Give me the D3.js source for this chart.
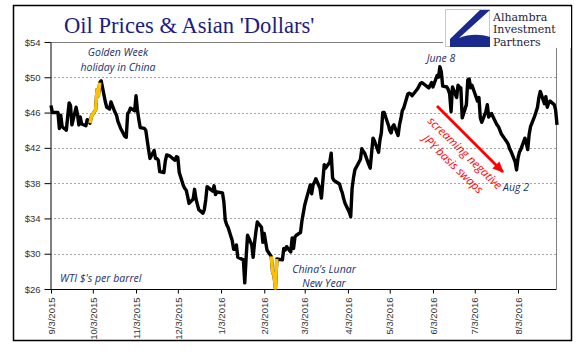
<!DOCTYPE html>
<html>
<head>
<meta charset="utf-8">
<script src="https://cdnjs.cloudflare.com/ajax/libs/d3/7.8.5/d3.min.js"></script>
<style>
body { margin: 0; background: #fff; }
svg { display: block; font-family: "Liberation Sans", Arial, sans-serif; }
.eixo text { font-size: 9.5px; fill: #333; }
.nota { font-family: "Open Sans", sans-serif; font-style: italic; font-size: 10.5px; fill: #1b2f6e; }
</style>
</head>
<body>
<div id="grafico"></div>
<script>

// WTI $ per barrel (one row per month)
var months = ["2015-09", "2015-10", "2015-11", "2015-12", "2016-01", "2016-02",
              "2016-03", "2016-04", "2016-05", "2016-06", "2016-07", "2016-08"];

var trading_days = [
	[3,4,8,9,10,11,14,15,16,17,18,21,22,23,24,25,28,29,30],
	[1,2,5,6,7,8,9,12,13,14,15,16,19,20,21,22,23,26,27,28,29,30],
	[2,3,4,5,6,9,10,11,12,13,16,17,18,19,20,23,24,25,27,30],
	[1,2,3,4,7,8,9,10,11,14,15,16,17,18,21,22,23,24,28,29,30,31],
	[4,5,6,7,8,11,12,13,14,15,19,20,21,22,25,26,27,28,29],
	[1,2,3,4,5,8,9,10,11,12,16,17,18,19,22,23,24,25,26,29],
	[1,2,3,4,7,8,9,10,11,14,15,16,17,18,21,22,23,24,28,29,30,31],
	[1,4,5,6,7,8,11,12,13,14,15,18,19,20,21,22,25,26,27,28,29],
	[2,3,4,5,6,9,10,11,12,13,16,17,18,19,20,23,24,25,26,27,31],
	[1,2,3,6,7,8,9,10,13,14,15,16,17,20,21,22,23,24,27,28,29,30],
	[1,5,6,7,8,11,12,13,14,15,18,19,20,21,22,25,26,27,28,29],
	[1,2,3,4,5,8,9,10,11,12,15,16,17,18,19,22,23,24,25,26,29,30,31]
];

var prices = [
	[46.8,46.0,46.0,44.2,45.7,44.4,44.0,45.6,47.1,46.8,44.6,46.6,45.8,44.6,45.5,44.7,44.5,45.2,45.1],
	[44.8,45.6,46.3,48.6,47.9,49.4,49.6,47.2,46.6,46.5,46.4,47.2,46.0,45.7,45.0,44.6,44.2,43.3,43.2,45.9,46.1,46.5],
	[46.2,47.9,46.3,45.2,44.3,44.2,44.0,42.9,41.8,40.8,41.7,40.8,40.8,40.6,39.3,39.2,40.5,41.2,41.1,40.7],
	[40.6,41.0,40.9,39.2,37.7,37.4,37.2,36.5,35.7,36.2,37.3,36.2,35.6,35.0,34.6,35.0,36.1,37.6,37.1,37.7,36.7,37.0],
	[36.9,35.9,33.8,33.3,33.0,31.5,30.5,30.5,31.0,29.6,29.3,26.7,29.6,32.1,31.0,29.6,31.2,32.5,33.6],
	[33.0,31.3,32.3,31.3,30.4,29.7,27.9,27.5,26.1,29.4,29.3,30.6,30.4,30.8,30.2,31.8,30.6,31.9,32.1,32.4],
	[33.7,34.6,35.5,36.1,37.8,36.8,37.8,38.1,38.5,37.4,36.3,38.2,40.1,39.7,40.4,41.4,38.6,38.3,37.9,37.3,36.9,36.2],
	[35.7,34.7,34.2,37.4,38.6,39.5,40.4,40.7,41.9,41.6,41.4,40.1,39.7,41.4,43.1,42.8,41.5,42.9,43.7,46.0,46.0],
	[44.6,44.0,43.7,44.4,44.6,43.4,44.6,45.3,46.2,46.5,48.1,48.2,48.1,47.9,48.1,48.7,49.0,49.3,49.4,49.3,48.8],
	[49.1,49.4,48.9,50.2,50.0,51.2,50.6,49.0,48.9,48.6,48.1,46.1,48.9,47.7,49.1,48.9,48.8,45.4,46.9,49.7,49.8,48.8],
	[49.1,47.3,47.7,45.4,44.9,46.1,46.9,45.5,45.7,45.9,44.9,44.6,44.4,44.0,43.6,42.9,42.7,42.4,41.9,41.6],
	[40.4,39.5,40.8,41.5,41.8,43.1,42.5,41.8,43.5,44.4,45.6,46.1,46.6,47.7,48.4,47.0,47.8,46.6,47.1,47.3,46.9,46.3,44.6]
];

// holidays drawn in orange
var golden_week = ["2015-10-01", "2015-10-08"];
var lunar_new_year = ["2016-02-08", "2016-02-12"];

var y_ticks = [26, 30, 34, 38, 42, 46, 50, 54];
var x_ticks = ["2015-09-03", "2015-10-03", "2015-11-03", "2015-12-03", "2016-01-03", "2016-02-03",
               "2016-03-03", "2016-04-03", "2016-05-03", "2016-06-03", "2016-07-03", "2016-08-03"];
var x_domain = ["2015-09-03", "2016-08-31"];

function desenha_grafico(){

	var width = 577;
	var height = 361;
	var left = 50, right = 556.5, top = 42, bottom = 289;

	var parse = d3.timeParse("%Y-%m-%d");

	var serie = [];
	months.forEach(function(m, i){
		trading_days[i].forEach(function(d, j){
			serie.push({date: parse(m + "-" + (d < 10 ? "0" + d : d)), price: prices[i][j]});
		});
	});

	var svg = d3.select("#grafico")
	            .append("svg")
	            .attr("width", width)
	            .attr("height", height);

	var x = d3.scaleTime()
	            .domain(x_domain.map(parse))
	            .range([51, 557]);

	var y = d3.scaleLinear()
	            .domain([26, 54])
	            .range([bottom, top]);

	// moldura externa
	svg.append("rect")
	    .attr("x", 13.5).attr("y", 5.5)
	    .attr("width", 558).attr("height", 335)
	    .style("fill", "none")
	    .style("stroke", "#000")
	    .style("stroke-width", 1.5);

	// linhas de grade
	svg.append("g")
	    .selectAll("line")
	    .data(y_ticks.filter(function(t){ return t > 26 && t < 54; }))
	    .enter()
	    .append("line")
	    .attr("x1", left).attr("x2", right)
	    .attr("y1", function(d){ return Math.round(y(d)) + 0.5; })
	    .attr("y2", function(d){ return Math.round(y(d)) + 0.5; })
	    .style("stroke", "#a6a6a6")
	    .style("stroke-width", 1)
	    .style("stroke-dasharray", "2,2");

	// borda da area do grafico
	svg.append("line")
	    .attr("x1", left).attr("x2", right)
	    .attr("y1", top + 0.5).attr("y2", top + 0.5)
	    .style("stroke", "#7f7f7f");
	svg.append("line")
	    .attr("x1", right).attr("x2", right)
	    .attr("y1", top).attr("y2", bottom)
	    .style("stroke", "#7f7f7f");

	// eixo y
	var yAxis = d3.axisLeft(y)
	              .tickValues(y_ticks)
	              .tickSize(6)
	              .tickSizeOuter(0)
	              .tickPadding(4)
	              .tickFormat(function(d){ return "$" + d; });

	svg.append("g")
	    .attr("class", "eixo")
	    .attr("transform", "translate(" + (left + 0.5) + ",0)")
	    .call(yAxis)
	    .call(function(g){ g.selectAll("line, path").style("stroke", "#000"); });

	// eixo x
	var xAxis = d3.axisBottom(x)
	              .tickValues(x_ticks.map(parse))
	              .tickSize(4)
	              .tickSizeOuter(0)
	              .tickFormat(d3.timeFormat("%-m/%-d/%Y"));

	var gx = svg.append("g")
	    .attr("class", "eixo")
	    .attr("transform", "translate(0," + (bottom + 0.5) + ")")
	    .call(xAxis);

	gx.select(".domain").remove();
	gx.selectAll("line").style("stroke", "#000");
	gx.selectAll("text")
	    .attr("transform", "rotate(-90)")
	    .attr("x", -8)
	    .attr("y", 0)
	    .attr("dy", "0.34em")
	    .style("text-anchor", "end");

	svg.append("line")
	    .attr("x1", left).attr("x2", right)
	    .attr("y1", bottom + 0.5).attr("y2", bottom + 0.5)
	    .style("stroke", "#000");

	// linha do petroleo
	var line = d3.line()
	             .x(function(d){ return x(d.date); })
	             .y(function(d){ return y(d.price); });

	svg.append("path")
	    .datum(serie)
	    .attr("d", line)
	    .style("fill", "none")
	    .style("stroke", "#000")
	    .style("stroke-width", 3.4)
	    .style("stroke-linejoin", "round");

	[golden_week, lunar_new_year].forEach(function(r){
		var ini = parse(r[0]), fim = parse(r[1]);
		svg.append("path")
		    .datum(serie.filter(function(d){ return d.date >= ini && d.date <= fim; }))
		    .attr("d", line)
		    .style("fill", "none")
		    .style("stroke", "#ffc000")
		    .style("stroke-width", 3.4)
		    .style("stroke-linejoin", "round");
	});

	// titulo
	svg.append("text")
	    .attr("x", 64).attr("y", 33)
	    .style("font-family", "'Liberation Serif', 'Times New Roman', serif")
	    .style("font-size", "22.6px")
	    .style("fill", "#1c1c84")
	    .text("Oil Prices & Asian 'Dollars'");

	// logo
	var logo = svg.append("g");
	logo.append("rect")
	    .attr("x", 443).attr("y", 7)
	    .attr("width", 128).attr("height", 41)
	    .style("fill", "#fff");
	logo.append("rect")
	    .attr("x", 445.5).attr("y", 9.5)
	    .attr("width", 44).attr("height", 37)
	    .style("fill", "#fff")
	    .style("stroke", "#c8c8c8");
	logo.append("path")
	    .attr("d", "M480,10 L490,10 L459,38 C469,34 480,34 490,37 L490,47 L450,47 L450,39 Z")
	    .style("fill", "#1a2a8c");
	var nomes = ["Alhambra", "Investment", "Partners"];
	logo.selectAll(".nome")
	    .data(nomes)
	    .enter()
	    .append("text")
	    .attr("class", "nome")
	    .attr("x", 493)
	    .attr("y", function(d, i){ return 20.5 + i * 12.5; })
	    .style("font-family", "'DejaVu Serif', serif")
	    .style("font-size", "11px")
	    .style("fill", "#1d1d3b")
	    .text(function(d){ return d; });

	// notas
	var notas = [
		{t: "Golden Week", x: 118, y: 56, a: "middle"},
		{t: "holiday in China", x: 118, y: 71, a: "middle"},
		{t: "June 8", x: 441, y: 62, a: "middle"},
		{t: "Aug 2", x: 516, y: 191, a: "middle"},
		{t: "China's Lunar", x: 324, y: 273, a: "middle"},
		{t: "New Year", x: 324, y: 287, a: "middle"},
		{t: "WTI $'s per barrel", x: 60, y: 282, a: "start"}
	];

	svg.selectAll(".nota")
	    .data(notas)
	    .enter()
	    .append("text")
	    .attr("class", "nota")
	    .attr("x", function(d){ return d.x; })
	    .attr("y", function(d){ return d.y; })
	    .style("text-anchor", function(d){ return d.a; })
	    .text(function(d){ return d.t; });

	// seta vermelha
	svg.append("defs")
	    .append("marker")
	    .attr("id", "ponta")
	    .attr("markerUnits", "userSpaceOnUse")
	    .attr("markerWidth", 12).attr("markerHeight", 10)
	    .attr("refX", 10).attr("refY", 5)
	    .attr("orient", "auto")
	    .append("path")
	    .attr("d", "M0,0 L11,5 L0,10 Z")
	    .style("fill", "#ff0000");

	svg.append("line")
	    .attr("x1", 437).attr("y1", 106)
	    .attr("x2", 503).attr("y2", 172)
	    .attr("marker-end", "url(#ponta)")
	    .style("stroke", "#ff0000")
	    .style("stroke-width", 2.8);

	var vermelho = [
		{t: "screaming negative", x: 465, y: 153},
		{t: "JPY basis swaps", x: 453, y: 164}
	];

	svg.selectAll(".vermelho")
	    .data(vermelho)
	    .enter()
	    .append("text")
	    .attr("class", "vermelho")
	    .attr("transform", function(d){ return "translate(" + d.x + "," + d.y + ") rotate(44)"; })
	    .attr("dy", "0.35em")
	    .style("text-anchor", "middle")
	    .style("font-family", "'Open Sans', sans-serif")
	    .style("font-style", "italic")
	    .style("font-size", "11.5px")
	    .style("fill", "#ff0000")
	    .text(function(d){ return d.t; });
}

desenha_grafico();
</script>
</body>
</html>
